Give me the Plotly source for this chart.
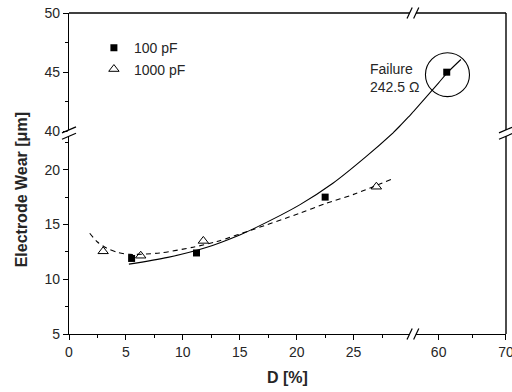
import plotly.graph_objects as go

# ---------------- data ----------------
d_100 = [5.5, 11.2, 22.5, 61.2]          # D [%]
wear_100 = [11.9, 12.4, 17.5, 45.0]      # electrode wear [um]
d_1000 = [3.0, 6.3, 11.8, 27.0]
wear_1000 = [12.55, 12.15, 13.5, 18.45]

# fitted curves (split at the axis breaks)
fit100_low_x = [5.26, 8.68, 12.05, 15.0, 16.18, 20.26, 23.18, 26.09, 28.45, 29.0]
fit100_low_y = [11.38, 12.0, 12.9, 14.05, 14.6, 16.79, 18.76, 21.19, 23.35, 23.9]
fit100_mid_x = [28.2, 28.45, 29.0, 29.8, 30.21, 30.6]
fit100_mid_y = [39.6, 39.86, 40.39, 41.2, 41.63, 42.03]
fit100_high_x = [56.18, 60.0, 61.2, 63.3]
fit100_high_y = [41.63, 44.1, 44.9, 46.07]

fit1000_x = [1.82, 2.5, 3.29, 4.3, 5.34, 7.97, 10.9, 13.0, 16.18, 20.28, 22.5, 25.0, 28.34]
fit1000_y = [14.2, 13.4, 12.85, 12.45, 12.27, 12.4, 12.93, 13.45, 14.55, 16.03, 16.9, 17.75, 19.13]

failure_center = (61.31, 44.79)
failure_radius = (3.27, 1.855)

# axis segments and ticks
x_low_range = [0, 30.21]
x_high_range = [56.18, 70]
y_low_range = [5, 23.35]
y_high_range = [39.857, 50]
x_low_ticks = [0, 5, 10, 15, 20, 25]
x_low_minor = [2.5, 7.5, 12.5, 17.5, 22.5, 27.5]
x_high_ticks = [60, 70]
x_high_minor = [65]
y_low_ticks = [5, 10, 15, 20]
y_low_minor = [7.5, 12.5, 17.5, 22.5]
y_high_ticks = [40, 45, 50]
y_high_minor = [42.5, 47.5]
fx = 0.787   # x break position (paper)
fy = 0.626   # y break position (paper)

FONT = "Liberation Sans, Arial, sans-serif"
TXT = "#262626"

fig = go.Figure()

# markers
fig.add_trace(go.Scatter(x=d_100[:3], y=wear_100[:3], mode="markers", name="100 pF",
                         marker=dict(symbol="square", size=7, color="black"),
                         xaxis="x", yaxis="y", cliponaxis=False))
fig.add_trace(go.Scatter(x=d_1000, y=wear_1000, mode="markers", name="1000 pF",
                         marker=dict(symbol="triangle-up-open", size=9, color="black",
                                     line=dict(width=1)),
                         xaxis="x", yaxis="y", cliponaxis=False))
fig.add_trace(go.Scatter(x=d_100[3:], y=wear_100[3:], mode="markers", showlegend=False,
                         marker=dict(symbol="square", size=7, color="black"),
                         xaxis="x2", yaxis="y2"))

# fit curves
line_solid = dict(color="black", width=1.1, shape="spline", smoothing=0.8)
fig.add_trace(go.Scatter(x=fit100_low_x, y=fit100_low_y, mode="lines", line=line_solid,
                         showlegend=False, xaxis="x", yaxis="y"))
fig.add_trace(go.Scatter(x=fit100_mid_x, y=fit100_mid_y, mode="lines", line=line_solid,
                         showlegend=False, xaxis="x", yaxis="y2"))
fig.add_trace(go.Scatter(x=fit100_high_x, y=fit100_high_y, mode="lines", line=line_solid,
                         showlegend=False, xaxis="x2", yaxis="y2"))
fig.add_trace(go.Scatter(x=fit1000_x, y=fit1000_y, mode="lines",
                         line=dict(color="black", width=1.1, dash="5px,4px", shape="spline",
                                   smoothing=0.8),
                         showlegend=False, xaxis="x", yaxis="y"))

axis_common = dict(showline=True, linecolor="black", linewidth=1.4, showgrid=False,
                   zeroline=False, ticks="outside", ticklen=5, tickwidth=1.2, tickcolor="black",
                   automargin=False, ticklabeloverflow="allow",
                   tickfont=dict(family=FONT, size=14, color=TXT))

def minor(vals):
    return dict(ticks="outside", ticklen=3, tickvals=vals, tickcolor="black", tickwidth=1.2)

fig.update_layout(
    width=512, height=392,
    margin=dict(l=69, r=6, t=13, b=58, autoexpand=False),
    paper_bgcolor="white", plot_bgcolor="white",
    xaxis=dict(domain=[0, fx], range=x_low_range, anchor="y", tickvals=x_low_ticks,
               minor=minor(x_low_minor), **axis_common),
    xaxis2=dict(domain=[fx, 1], range=x_high_range, anchor="y", tickvals=x_high_ticks,
                minor=minor(x_high_minor), **axis_common),
    yaxis=dict(domain=[0, fy], range=y_low_range, anchor="x", tickvals=y_low_ticks,
               minor=minor(y_low_minor), **axis_common),
    yaxis2=dict(domain=[fy, 1], range=y_high_range, anchor="x", tickvals=y_high_ticks,
                minor=minor(y_high_minor), **axis_common),
    legend=dict(x=0.057, y=0.94, xanchor="left", yanchor="top", bgcolor="rgba(0,0,0,0)",
                font=dict(family=FONT, size=14, color=TXT), tracegroupgap=0),
    showlegend=True,
)

# frame lines (top & right)
fig.add_shape(type="line", xref="paper", yref="paper", x0=0, x1=1, y0=1, y1=1,
              line=dict(color="black", width=1.4))
fig.add_shape(type="line", xref="paper", yref="paper", x0=1, x1=1, y0=0, y1=1,
              line=dict(color="black", width=1.4))

# break marks
def xbreak(ypos):
    fig.add_shape(type="line", xref="paper", yref="paper", xsizemode="pixel", ysizemode="pixel",
                  xanchor=fx, yanchor=ypos, x0=-3, x1=3, y0=0, y1=0,
                  line=dict(color="white", width=3))
    for c in (-3.3, 3.3):
        fig.add_shape(type="line", xref="paper", yref="paper", xsizemode="pixel",
                      ysizemode="pixel", xanchor=fx, yanchor=ypos,
                      x0=c - 2.6, x1=c + 2.6, y0=-5.5, y1=5.5,
                      line=dict(color="black", width=1.2))

def ybreak(xpos):
    fig.add_shape(type="line", xref="paper", yref="paper", xsizemode="pixel", ysizemode="pixel",
                  xanchor=xpos, yanchor=fy, x0=0, x1=0, y0=-3, y1=3,
                  line=dict(color="white", width=3))
    for c in (-3.2, 3.2):
        fig.add_shape(type="line", xref="paper", yref="paper", xsizemode="pixel",
                      ysizemode="pixel", xanchor=xpos, yanchor=fy,
                      x0=-7, x1=7, y0=c - 3, y1=c + 3,
                      line=dict(color="black", width=1.2))

xbreak(0)
xbreak(1)
ybreak(0)
ybreak(1)

# failure circle
cx, cy = failure_center
rx, ry = failure_radius
fig.add_shape(type="circle", xref="x2", yref="y2", x0=cx - rx, x1=cx + rx,
              y0=cy - ry, y1=cy + ry, line=dict(color="black", width=1.1))

fig.add_annotation(x=26.3, y=44.49, xref="x", yref="y2", xanchor="left", yanchor="middle",
                   text="Failure<br>242.5 Ω", showarrow=False, align="left",
                   font=dict(family=FONT, size=14, color=TXT))

# axis titles
fig.add_annotation(x=0.5, y=-0.135, xref="paper", yref="paper", xanchor="center",
                   yanchor="middle", text="<b>D [%]</b>", showarrow=False,
                   font=dict(family=FONT, size=16, color=TXT))
fig.add_annotation(x=-0.108, y=0.45, xref="paper", yref="paper", xanchor="center",
                   yanchor="middle", text="<b>Electrode Wear [μm]</b>", showarrow=False,
                   textangle=-90, font=dict(family=FONT, size=16, color=TXT))

# remove the default page margin so the 512x392 figure fills the window exactly
fig.write_html("out.html", config={"displayModeBar": False},
               post_script="document.body.style.margin='0';document.body.style.overflow='hidden';")
